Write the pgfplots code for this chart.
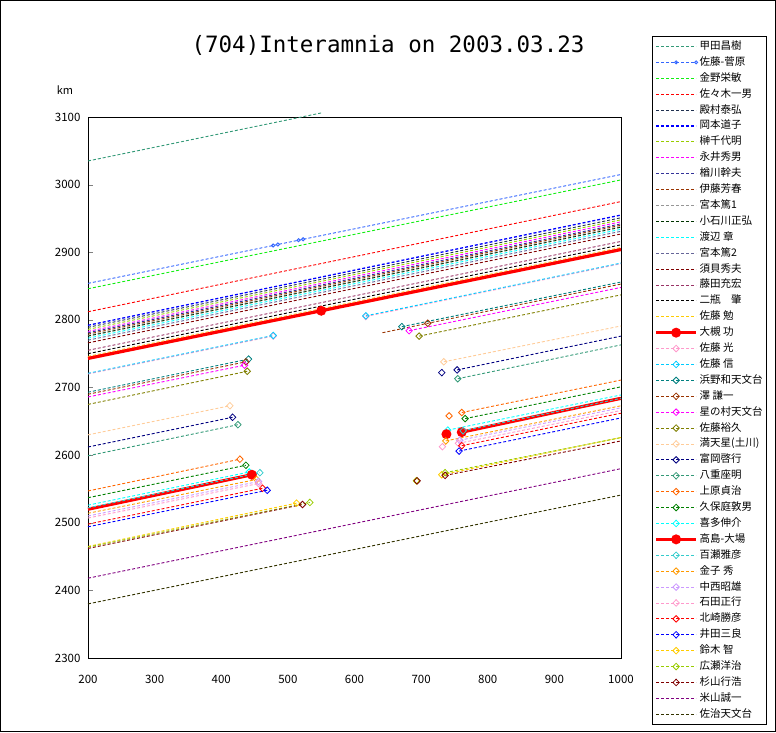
\documentclass[border=0pt]{standalone}
\usepackage{fontspec}
\setmainfont{Noto Sans CJK JP}
\newfontfamily\titlefont{DejaVu Sans Mono}
\usepackage{pgfplots}
\pgfplotsset{compat=1.18}
\definecolor{c1}{HTML}{339977}
\definecolor{c2}{HTML}{3366FF}
\definecolor{c3}{HTML}{11EE11}
\definecolor{c4}{HTML}{FF0000}
\definecolor{c5}{HTML}{1F3050}
\definecolor{c6}{HTML}{0000FF}
\definecolor{c7}{HTML}{99CC00}
\definecolor{c8}{HTML}{FF00FF}
\definecolor{c9}{HTML}{333399}
\definecolor{c10}{HTML}{993300}
\definecolor{c11}{HTML}{969696}
\definecolor{c12}{HTML}{003300}
\definecolor{c13}{HTML}{00FFFF}
\definecolor{c14}{HTML}{666699}
\definecolor{c15}{HTML}{800000}
\definecolor{c16}{HTML}{993366}
\definecolor{c17}{HTML}{000000}
\definecolor{c18}{HTML}{FFCC00}
\definecolor{c20}{HTML}{FF99CC}
\definecolor{c21}{HTML}{00CCFF}
\definecolor{c22}{HTML}{008080}
\definecolor{c25}{HTML}{808000}
\definecolor{c26}{HTML}{FFCC99}
\definecolor{c27}{HTML}{000080}
\definecolor{c29}{HTML}{FF6600}
\definecolor{c30}{HTML}{008000}
\definecolor{c33}{HTML}{33CCCC}
\definecolor{c34}{HTML}{FF9900}
\definecolor{c35}{HTML}{CC99FF}
\definecolor{c42}{HTML}{800080}
\definecolor{c43}{HTML}{333300}
\pgfplotsset{
  dl/.style={color=#1, dash pattern=on 3pt off 2pt, line width=0.9pt},
  dm/.style={dl=#1, mark=diamond, mark size=3.3pt, mark options={solid, line width=0.8pt, xscale=1.3}},
  dmL/.style={dm=#1, mark indices={2}},
  dmR/.style={dm=#1, mark indices={1}, forget plot},
  dmI/.style={color=#1, only marks, mark=diamond, mark size=3.3pt, mark options={solid, line width=0.8pt, xscale=1.3}, forget plot},
  rt/.style={color=red, solid, line width=3.2pt, mark=*, mark size=3.3pt},
}
\begin{document}
\begin{tikzpicture}
\draw[black, line width=1pt] (0.5pt,0.5pt) rectangle (775.5pt,731.5pt);
\node[font=\titlefont\fontsize{22.5}{26}\selectfont] at (388pt,687pt) {(704)Interamnia on 2003.03.23};
\node[font=\fontsize{11}{12}\selectfont] at (65pt,642pt) {km};
\begin{axis}[
  at={(88pt,74pt)}, anchor=south west, scale only axis,
  width=533pt, height=541pt,
  xmin=200, xmax=1000, ymin=2300, ymax=3100,
  xtick={200,300,...,1000}, ytick={2300,2400,...,3100},
  tick align=inside, major tick length=5pt,
  xtick pos=bottom, ytick pos=left,
  xtick style={draw=none},
  axis line style={line width=1pt},
  clip=false,
  /pgf/number format/assume math mode=true,
  /pgf/number format/1000 sep={},
  ticklabel style={font=\fontsize{11.5}{12}\selectfont},
  xticklabel style={yshift=-14pt},
  yticklabel style={xshift=-4pt},
  legend style={at={(1.0582,1.1497)}, anchor=north west, draw=black, line width=1pt,
    font=\fontsize{10.5}{12}\selectfont,
    nodes={inner sep=2pt, text height=8.9pt, text depth=3pt},
    cells={anchor=west}, inner xsep=2pt, inner ysep=2pt},
  legend image code/.code={\draw[mark repeat=2,mark phase=2] plot coordinates {(0pt,0pt)(20pt,0pt)(40pt,0pt)};},
]
\addplot[dl=c1] coordinates {(200,3035)(550,3106)}; \addlegendentry{甲田昌樹}
\addplot[dl=c2, mark=o, mark size=1.6pt, mark options={solid}, mark indices={2,3,4,5}] coordinates {(200,2854)(478,2910)(485,2911.5)(516,2917.8)(523,2919.2)(1000,3015)}; \addlegendentry{佐藤-菅原}
\addplot[dl=c3] coordinates {(200,2846)(1000,3007)}; \addlegendentry{金野栄敏}
\addplot[dl=c4] coordinates {(200,2812)(1000,2975)}; \addlegendentry{佐々木一男}
\addplot[dl=c5] coordinates {(200,2789)(1000,2951)}; \addlegendentry{殿村泰弘}
\addplot[dl=c6, line width=1.3pt] coordinates {(200,2792)(1000,2955)}; \addlegendentry{岡本道子}
\addplot[dl=c7] coordinates {(200,2786)(1000,2948)}; \addlegendentry{榊千代明}
\addplot[dl=c8] coordinates {(200,2783)(1000,2945)}; \addlegendentry{永井秀男}
\addplot[dl=c9] coordinates {(200,2781)(1000,2942)}; \addlegendentry{楢川幹夫}
\addplot[dl=c10] coordinates {(200,2779)(1000,2940)}; \addlegendentry{伊藤芳春}
\addplot[dl=c11] coordinates {(200,2777)(1000,2938)}; \addlegendentry{宮本篤1}
\addplot[dl=c12] coordinates {(200,2776)(1000,2937)}; \addlegendentry{小石川正弘}
\addplot[dl=c13] coordinates {(200,2773)(1000,2934)}; \addlegendentry{渡辺 章}
\addplot[dl=c14] coordinates {(200,2770)(1000,2931)}; \addlegendentry{宮本篤2}
\addplot[dl=c15] coordinates {(200,2766)(1000,2927)}; \addlegendentry{須貝秀夫}
\addplot[dl=c16] coordinates {(200,2755)(1000,2916)}; \addlegendentry{藤田充宏}
\addplot[dl=c17] coordinates {(200,2750)(1000,2911)}; \addlegendentry{二瓶　肇}
\addplot[dl=c18] coordinates {(200,2746)(1000,2907)}; \addlegendentry{佐藤 勉}
\addplot[rt, mark indices={2}] coordinates {(200,2743)(550,2813.5)(1000,2904)}; \addlegendentry{大槻 功}
% 20 佐藤 光
\addplot[dmL=c20] coordinates {(200,2720)(478,2776)}; \addlegendentry{佐藤 光}
\addplot[dmR=c20] coordinates {(617,2805)(1000,2883)};
% 21 佐藤 信
\addplot[dmL=c21] coordinates {(200,2721)(478,2777)}; \addlegendentry{佐藤 信}
\addplot[dmR=c21] coordinates {(617,2806)(1000,2884)};
% 22 浜野
\addplot[dmL=c22] coordinates {(200,2693)(441,2742)}; \addlegendentry{浜野和天文台}
\addplot[dmR=c22] coordinates {(671,2790)(1000,2856)};
% 23 澤
\addplot[dmL=c10] coordinates {(200,2690)(437,2738)}; \addlegendentry{澤 謙一}
\addplot[dm=c10, mark indices={2}, forget plot] coordinates {(642,2781)(710,2795)(1000,2853)};
% 24 星の村
\addplot[dmL=c8] coordinates {(200,2686)(435,2733)}; \addlegendentry{星の村天文台}
\addplot[dmR=c8] coordinates {(682,2784)(1000,2848)};
% 25 佐藤裕久
\addplot[dmL=c25] coordinates {(200,2675)(439,2724)}; \addlegendentry{佐藤裕久}
\addplot[dmR=c25] coordinates {(697,2776)(1000,2837)};
% 26 満天星
\addplot[dmL=c26] coordinates {(200,2630)(413,2673)}; \addlegendentry{満天星(土川)}
\addplot[dmR=c26] coordinates {(734,2738)(1000,2791)};
% 27 富岡
\addplot[dmL=c27] coordinates {(200,2612)(417,2656)}; \addlegendentry{富岡啓行}
\addplot[dmI=c27] coordinates {(731,2722)};
\addplot[dmR=c27] coordinates {(754,2726)(1000,2776)};
% 28 八重
\addplot[dmL=c1] coordinates {(200,2599)(425,2645)}; \addlegendentry{八重座明}
\addplot[dmR=c1] coordinates {(755,2713)(1000,2763)};
% 29 上原
\addplot[dmL=c29] coordinates {(200,2547)(428,2594)}; \addlegendentry{上原貞治}
\addplot[dmI=c29] coordinates {(742,2658)};
\addplot[dmR=c29] coordinates {(761,2663)(1000,2711)};
% 30 久保庭
\addplot[dmL=c30] coordinates {(200,2537)(437,2585)}; \addlegendentry{久保庭敦男}
\addplot[dmR=c30] coordinates {(766,2654)(1000,2701)};
% 31 喜多
\addplot[dmL=c13] coordinates {(200,2526)(442,2575)}; \addlegendentry{喜多伸介}
\addplot[dmR=c13] coordinates {(740,2637)(1000,2689)};
% 32 高島-大場
\addplot[rt, mark indices={2}] coordinates {(200,2520)(446,2571)}; \addlegendentry{高島-大場}
\addplot[rt, only marks, forget plot] coordinates {(738,2631)};
\addplot[rt, mark indices={1}, forget plot] coordinates {(761,2634)(1000,2684)};
% 33 百瀬
\addplot[dmL=c33] coordinates {(200,2522)(458,2574)}; \addlegendentry{百瀬雅彦}
\addplot[dmR=c33] coordinates {(763,2636)(1000,2684)};
% 34 金子
\addplot[dmL=c34] coordinates {(200,2514)(453,2564)}; \addlegendentry{金子 秀}
\addplot[dmR=c34] coordinates {(737,2621)(1000,2673)};
% 35 中西
\addplot[dmL=c35] coordinates {(200,2510)(456,2561)}; \addlegendentry{中西昭雄}
\addplot[dmR=c35] coordinates {(758,2622)(1000,2670)};
% 36 石田
\addplot[dmL=c20] coordinates {(200,2507)(456,2558)}; \addlegendentry{石田正行}
\addplot[dmI=c20] coordinates {(732,2612.5)};
\addplot[dmR=c20] coordinates {(756,2617.5)(1000,2666)};
% 37 北崎
\addplot[dmL=c4] coordinates {(200,2498)(462,2551)}; \addlegendentry{北崎勝彦}
\addplot[dmR=c4] coordinates {(761,2614)(1000,2662)};
% 38 井田
\addplot[dmL=c6] coordinates {(200,2494)(469,2548)}; \addlegendentry{井田三良}
\addplot[dmR=c6] coordinates {(757,2606)(1000,2655)};
% 39 鈴木
\addplot[dmL=c18] coordinates {(200,2465)(513,2529)}; \addlegendentry{鈴木 智}
\addplot[dmI=c18] coordinates {(693,2562)};
\addplot[dmR=c18] coordinates {(731,2571)(1000,2626)};
% 40 広瀬
\addplot[dmL=c7] coordinates {(200,2464)(533,2530)}; \addlegendentry{広瀬洋治}
\addplot[dmI=c7] coordinates {(693,2562)};
\addplot[dmR=c7] coordinates {(736,2574)(1000,2626)};
% 41 杉山
\addplot[dmL=c15] coordinates {(200,2462)(522,2527)}; \addlegendentry{杉山行浩}
\addplot[dmI=c15] coordinates {(694,2562)};
\addplot[dmR=c15] coordinates {(736,2570)(1000,2621)};
% 42, 43
\addplot[dl=c42] coordinates {(200,2418)(1000,2580)}; \addlegendentry{米山誠一}
\addplot[dl=c43] coordinates {(200,2380)(1000,2541)}; \addlegendentry{佐治天文台}
\end{axis}
\end{tikzpicture}
\end{document}
